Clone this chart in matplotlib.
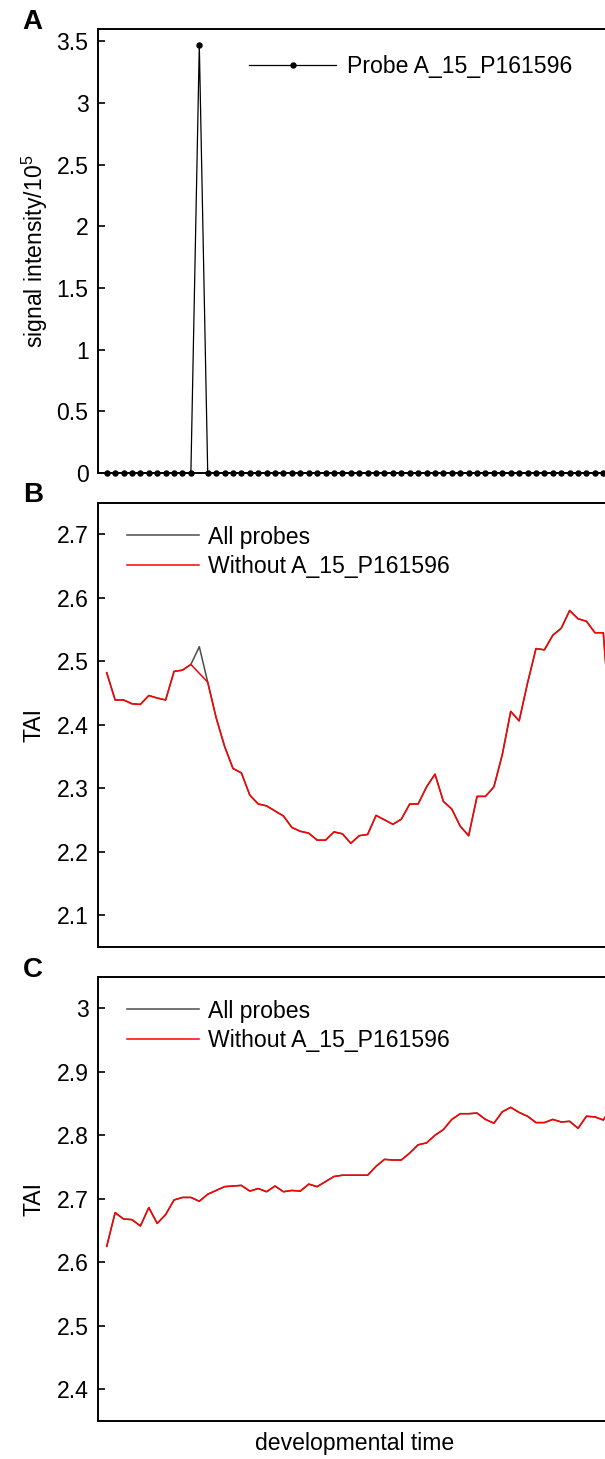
import numpy as np
import matplotlib
matplotlib.use('Agg')
import matplotlib.pyplot as plt
from matplotlib.ticker import FuncFormatter

plt.rcParams['font.family'] = ['Liberation Sans', 'DejaVu Sans']
plt.rcParams['font.size'] = 16.6

# Data
stages = np.arange(1, 62)

probe_signal = [0, 0, 0, 0, 0, 0, 0, 0, 0, 0, 0, 3.47, 0, 0, 0, 0, 0, 0, 0, 0,
                0, 0, 0, 0, 0, 0, 0, 0, 0, 0, 0, 0, 0, 0, 0, 0, 0, 0, 0, 0,
                0, 0, 0, 0, 0, 0, 0, 0, 0, 0, 0, 0, 0, 0, 0, 0, 0, 0, 0, 0, 0]

tai_b_all = [2.482, 2.439, 2.439, 2.433, 2.432, 2.446, 2.442, 2.439, 2.484, 2.486,
             2.495, 2.523, 2.467, 2.411, 2.366, 2.331, 2.324, 2.289, 2.275, 2.272,
             2.264, 2.256, 2.238, 2.232, 2.229, 2.218, 2.218, 2.231, 2.228, 2.213,
             2.225, 2.227, 2.257, 2.250, 2.243, 2.251, 2.275, 2.275, 2.302, 2.322,
             2.279, 2.267, 2.240, 2.225, 2.287, 2.287, 2.302, 2.353, 2.421, 2.406,
             2.466, 2.520, 2.518, 2.541, 2.552, 2.580, 2.567, 2.563, 2.545, 2.545, 2.370]

tai_b_without = [2.482, 2.439, 2.439, 2.433, 2.432, 2.446, 2.442, 2.439, 2.484, 2.486,
                 2.495, 2.481, 2.467, 2.411, 2.366, 2.331, 2.324, 2.289, 2.275, 2.272,
                 2.264, 2.256, 2.238, 2.232, 2.229, 2.218, 2.218, 2.231, 2.228, 2.213,
                 2.225, 2.227, 2.257, 2.250, 2.243, 2.251, 2.275, 2.275, 2.302, 2.322,
                 2.279, 2.267, 2.240, 2.225, 2.287, 2.287, 2.302, 2.353, 2.421, 2.406,
                 2.466, 2.520, 2.518, 2.541, 2.552, 2.580, 2.567, 2.563, 2.545, 2.545, 2.370]

tai_c_all = [2.625, 2.678, 2.668, 2.667, 2.657, 2.686, 2.661, 2.675, 2.698, 2.702,
             2.702, 2.696, 2.707, 2.713, 2.719, 2.720, 2.721, 2.712, 2.716, 2.711,
             2.720, 2.711, 2.713, 2.712, 2.723, 2.719, 2.727, 2.735, 2.737, 2.737,
             2.737, 2.737, 2.751, 2.762, 2.761, 2.761, 2.772, 2.785, 2.788, 2.800,
             2.809, 2.825, 2.834, 2.834, 2.835, 2.825, 2.819, 2.837, 2.844, 2.836,
             2.830, 2.820, 2.820, 2.825, 2.821, 2.822, 2.811, 2.830, 2.829, 2.824, 2.845]

tai_c_without = list(tai_c_all)

fmt = FuncFormatter(lambda v, p: '{:g}'.format(round(v, 3)))

fig = plt.figure(figsize=(6.05, 14.59), dpi=100)
W, H = 605.0, 1459.0
x0 = 98.3
ax_w = 61 * 8.417
ax_h = 444.0


def make_axes(top_px):
    ax = fig.add_axes([x0 / W, (H - top_px - ax_h) / H, ax_w / W, ax_h / H])
    for s in ax.spines.values():
        s.set_linewidth(1.4)
    ax.set_xlim(0, 61)
    ax.tick_params(axis='x', bottom=False, labelbottom=False)
    ax.tick_params(axis='y', direction='in', length=5, width=1.2, pad=7)
    ax.yaxis.set_major_formatter(fmt)
    return ax


# Panel A
axA = make_axes(29.0)
axA.plot(stages, probe_signal, color='black', lw=0.9, marker='o', ms=3.6,
         clip_on=False, label='Probe A_15_P161596')
axA.set_ylim(0, 3.6)
axA.set_yticks(np.arange(0, 3.51, 0.5))
axA.set_ylabel('signal intensity/10$^{\\mathregular{5}}$', labelpad=5)
axA.legend(loc='center left', bbox_to_anchor=(0.293, 0.915), frameon=False,
           handlelength=3.8, handletextpad=0.45, borderpad=0, borderaxespad=0)

# Panel B
axB = make_axes(502.7)
axB.plot(stages, tai_b_all, color='#4d4d4d', lw=1.1, label='All probes')
axB.plot(stages, tai_b_without, color='red', lw=1.1, label='Without A_15_P161596')
axB.set_ylim(2.05, 2.75)
axB.set_yticks(np.arange(2.1, 2.71, 0.1))
axB.set_ylabel('TAI', labelpad=8)
axB.legend(loc='center left', bbox_to_anchor=(0.055, 0.889), frameon=False,
           handlelength=3.15, handletextpad=0.4, labelspacing=0.3,
           borderpad=0, borderaxespad=0)

# Panel C
axC = make_axes(976.7)
axC.plot(stages, tai_c_all, color='#4d4d4d', lw=1.1, label='All probes')
axC.plot(stages, tai_c_without, color='red', lw=1.1, label='Without A_15_P161596')
axC.set_ylim(2.35, 3.05)
axC.set_yticks(np.arange(2.4, 3.01, 0.1))
axC.set_ylabel('TAI', labelpad=8)
axC.set_xlabel('developmental time', labelpad=8)
axC.legend(loc='center left', bbox_to_anchor=(0.055, 0.889), frameon=False,
           handlelength=3.15, handletextpad=0.4, labelspacing=0.3,
           borderpad=0, borderaxespad=0)

# Panel letters
for letter, ypx in [('A', 21.7), ('B', 495.0), ('C', 970.0)]:
    fig.text(32.7 / W, 1 - ypx / H, letter, fontsize=20, fontweight='bold',
             ha='center', va='center')

fig.savefig('out.png', dpi=100)
